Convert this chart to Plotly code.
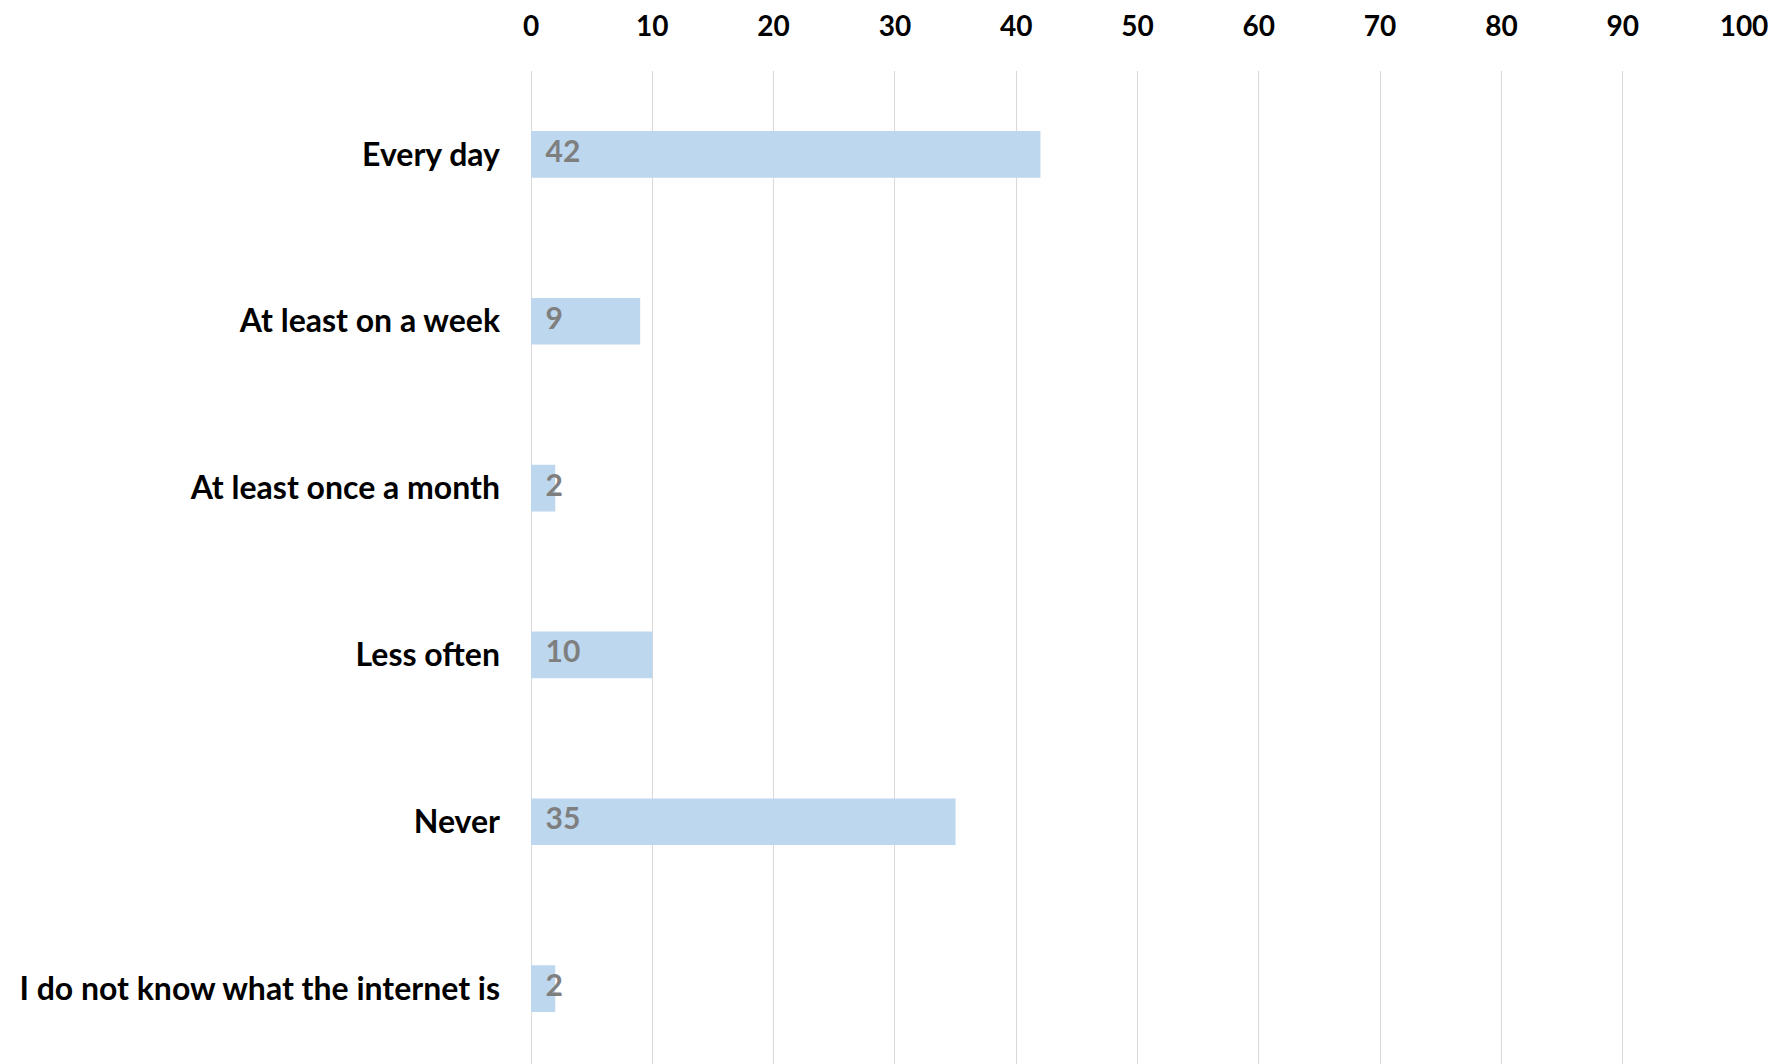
import plotly.graph_objects as go

categories = ["Every day", "At least on a week", "At least once a month",
              "Less often", "Never", "I do not know what the internet is"]
values = [42, 9, 2, 10, 35, 2]
tick_vals = [0, 10, 20, 30, 40, 50, 60, 70, 80, 90, 100]

FONT = "Lato"

fig = go.Figure()
fig.add_trace(go.Bar(
    x=values, y=categories, orientation="h",
    marker=dict(color="#BDD7EE", line=dict(width=0)),
    hoverinfo="x+y", showlegend=False,
))
fig.add_trace(go.Scatter(
    x=[0] * len(values), y=categories, mode="text",
    text=["  " + str(v) for v in values], textposition="middle right",
    textfont=dict(family=FONT, size=30, color="#7F7F7F", weight="bold"),
    showlegend=False, hoverinfo="skip", cliponaxis=False,
))

fig.update_layout(
    width=1792, height=1064,
    margin=dict(l=523, r=56, t=63, b=0),
    paper_bgcolor="white", plot_bgcolor="white",
    bargap=0.72,
    font=dict(family=FONT, color="black"),
)
fig.update_xaxes(
    side="top", range=[0, 100], tickvals=tick_vals,
    showgrid=True, gridcolor="#D9D9D9", gridwidth=1,
    zeroline=True, zerolinecolor="#D9D9D9", zerolinewidth=1,
    showline=False, ticks="", automargin=False,
    tickfont=dict(family=FONT, size=28, color="black", weight="bold"),
    ticklabelstandoff=28, fixedrange=True,
)
fig.update_yaxes(
    categoryorder="array", categoryarray=categories, autorange="reversed",
    showgrid=False, zeroline=False, showline=False, ticks="", automargin=False,
    tickfont=dict(family=FONT, size=32, color="black", weight="bold"),
    ticklabelstandoff=30, fixedrange=True,
)

fig.write_html("out.html")
